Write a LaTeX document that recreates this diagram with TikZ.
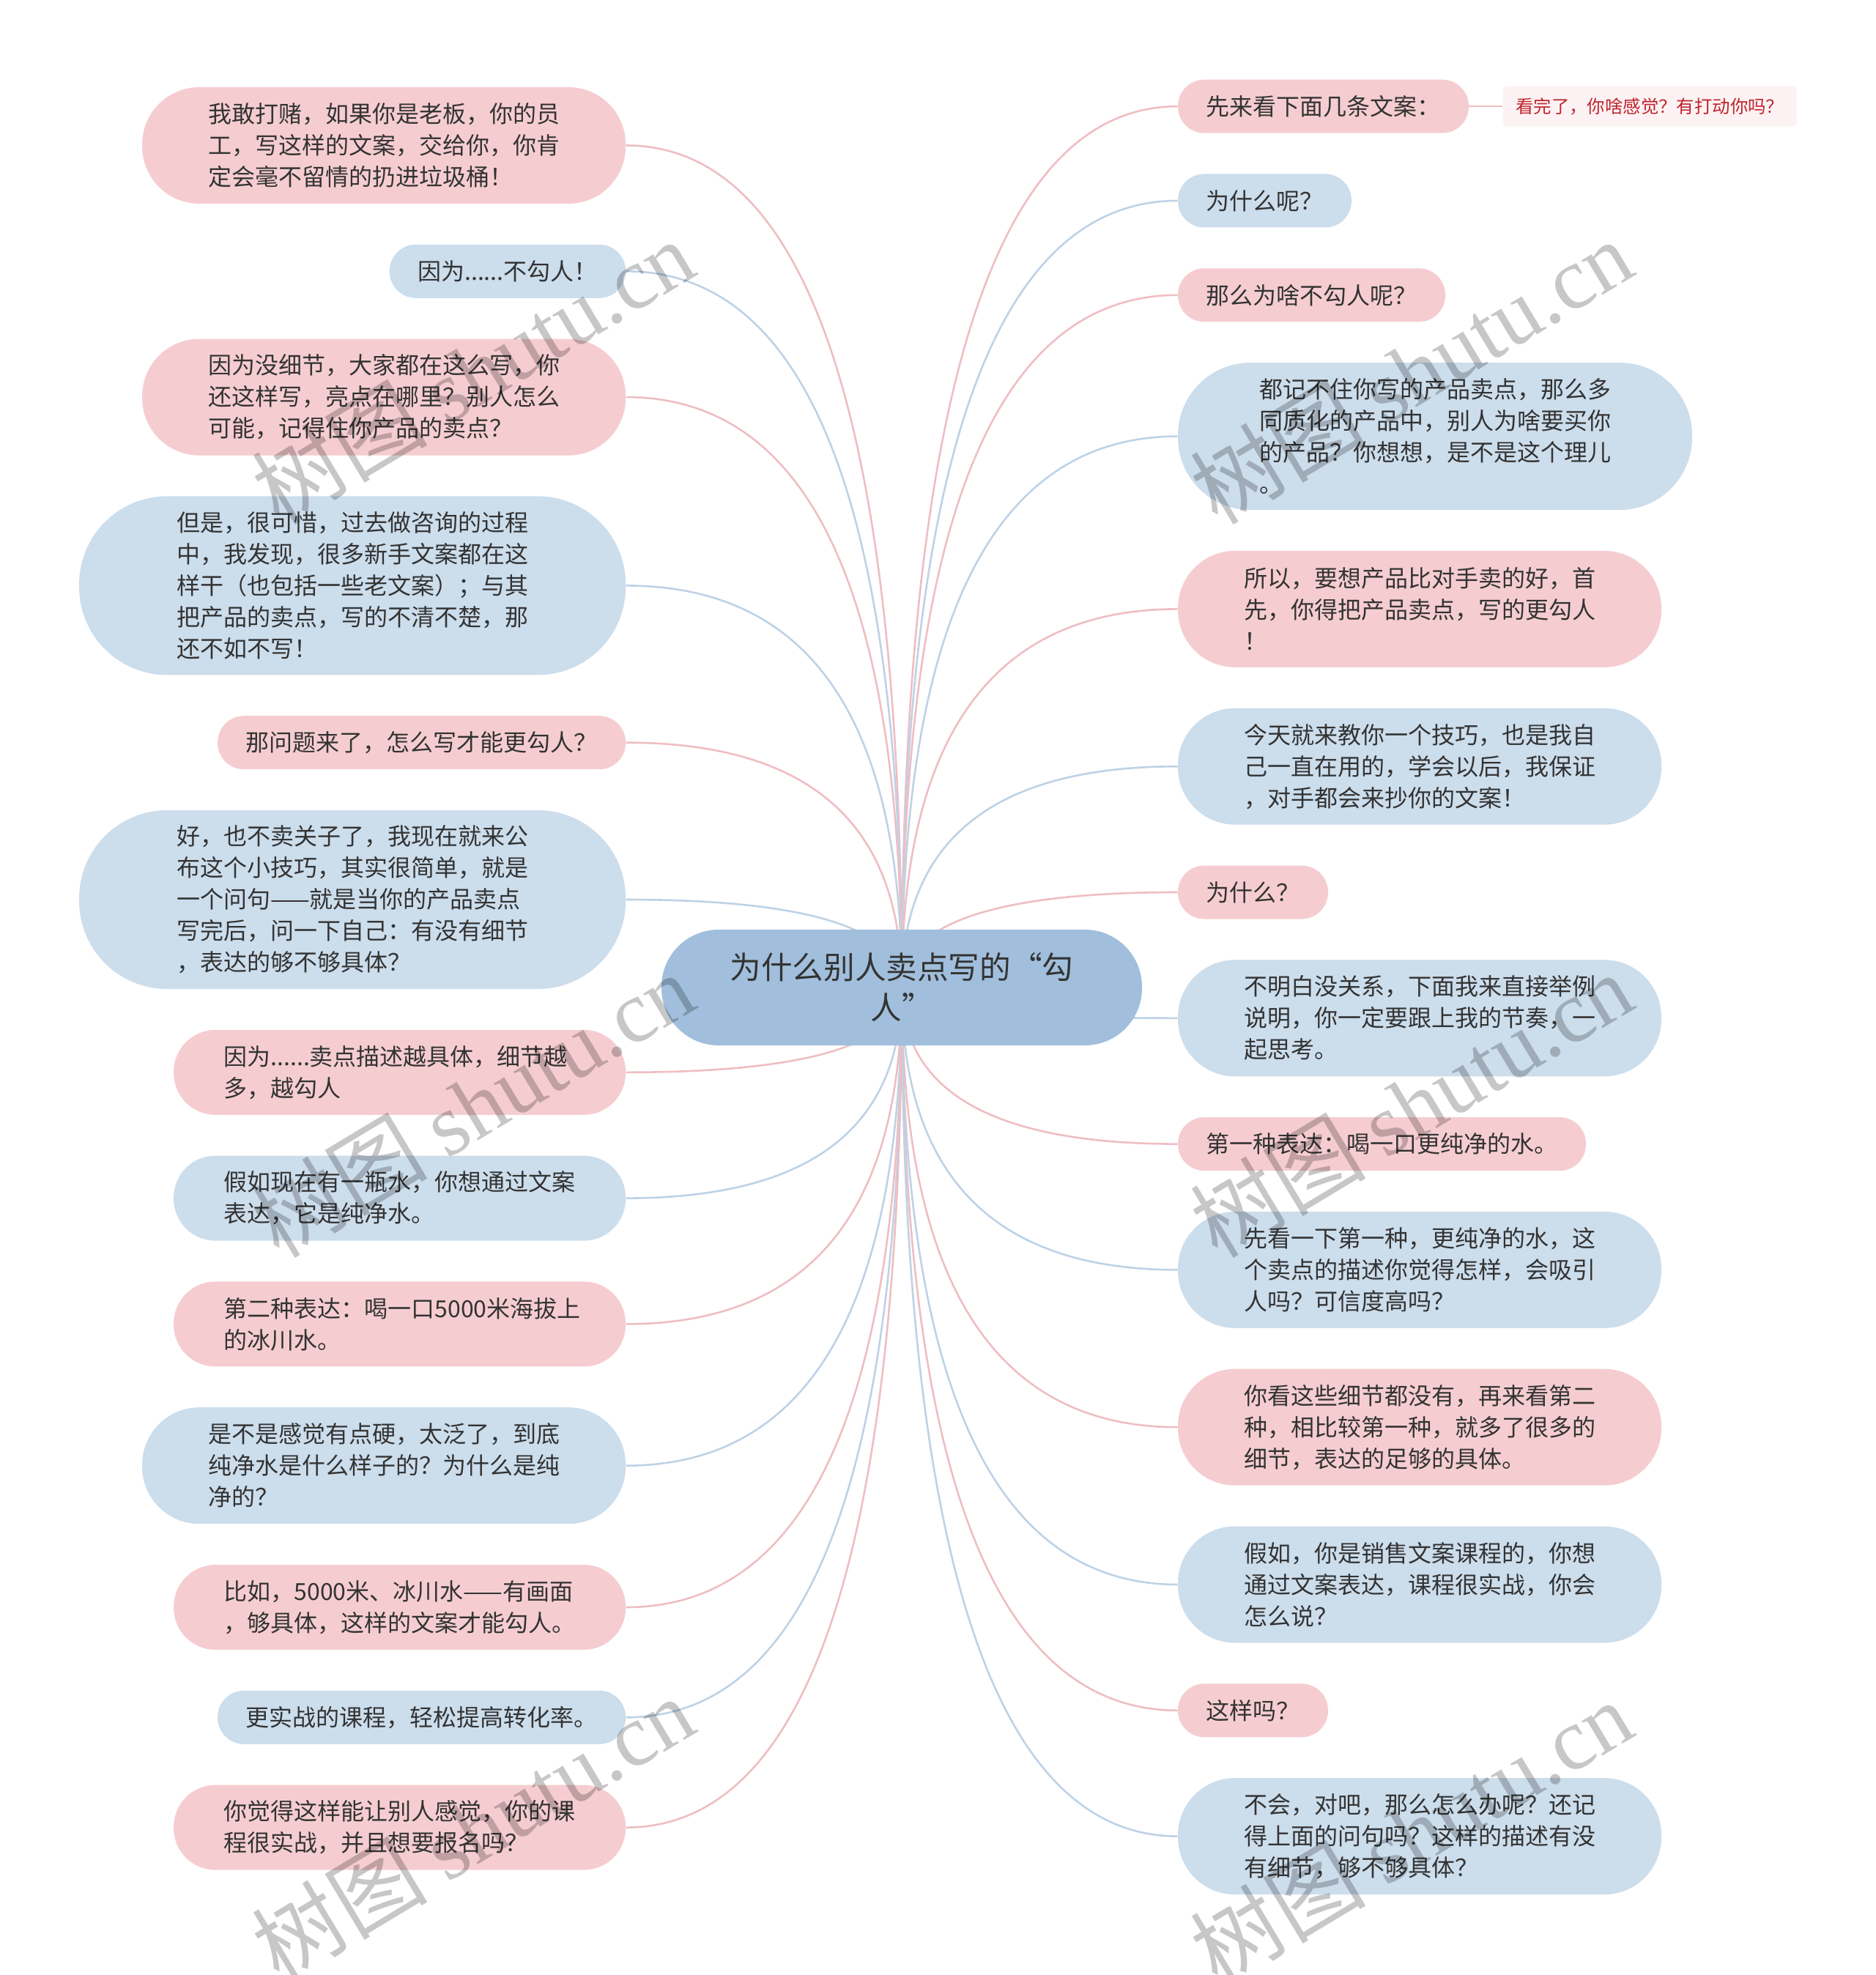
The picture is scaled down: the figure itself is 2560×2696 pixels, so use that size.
\documentclass[tikz,border=0pt]{standalone}
\usepackage{fontspec}
\setmainfont{Noto Sans CJK SC}
\newfontfamily\wmserif{Liberation Serif}
\usetikzlibrary{positioning,calc,backgrounds}

\definecolor{pinkfill}{RGB}{245,205,208}
\definecolor{bluefill}{RGB}{204,221,236}
\definecolor{rootfill}{RGB}{161,191,220}
\definecolor{pinkedge}{RGB}{238,190,194}
\definecolor{blueedge}{RGB}{190,210,230}
\definecolor{inktext}{RGB}{51,51,51}
\definecolor{notefill}{RGB}{253,242,243}
\definecolor{notetext}{RGB}{190,36,44}

\begin{document}
\begin{tikzpicture}[x=0.5pt, y=-0.5pt]
    \tikzstyle{bubble} = [rectangle, text=inktext, font=\fontsize{16}{21.5}\selectfont, align=left, inner ysep=2pt]
    \tikzstyle{pinkbub} = [bubble, fill=pinkfill]
    \tikzstyle{bluebub} = [bubble, fill=bluefill]
    \tikzstyle{lines1} = [minimum height=36.5pt, rounded corners=18pt, inner xsep=19.25pt]
    \tikzstyle{lines2} = [text width=240pt, minimum height=58pt, rounded corners=28.5pt, inner xsep=34.25pt]
    \tikzstyle{lines3} = [text width=240pt, minimum height=79.5pt, rounded corners=39pt, inner xsep=45pt]
    \tikzstyle{lines4} = [text width=240pt, minimum height=100.5pt, rounded corners=49.5pt, inner xsep=55.5pt]
    \tikzstyle{lines5} = [text width=240pt, minimum height=122pt, rounded corners=60pt, inner xsep=66.5pt]
    \tikzstyle{link} = [line width=1.3pt]
    \tikzstyle{wmark} = [text=black, text opacity=0.22, rotate=31, font=\fontsize{60}{60}\selectfont]

    \useasboundingbox (0,0) rectangle (2560,2696);

    % centre
    \node [rectangle, fill=rootfill, text=inktext, rounded corners=39pt, minimum width=328pt, minimum height=79pt, align=center, font=\fontsize{21.3}{27.5}\selectfont] (root) at (1231,1348) {为什么别人卖点写的“勾\\人”};

    % right side
    \node [pinkbub, lines1, anchor=north west] (r1) at (1607.6,108.3) {先来看下面几条文案：};
    \node [bluebub, lines1, below=27.5pt of r1.south west, anchor=north west] (r2) {为什么呢？};
    \node [pinkbub, lines1, below=27.5pt of r2.south west, anchor=north west] (r3) {那么为啥不勾人呢？};
    \node [bluebub, lines4, below=27.5pt of r3.south west, anchor=north west] (r4) {都记不住你写的产品卖点，那么多\\同质化的产品中，别人为啥要买你\\的产品？你想想，是不是这个理儿\\。};
    \node [pinkbub, lines3, below=27.5pt of r4.south west, anchor=north west] (r5) {所以，要想产品比对手卖的好，首\\先，你得把产品卖点，写的更勾人\\！};
    \node [bluebub, lines3, below=27.5pt of r5.south west, anchor=north west] (r6) {今天就来教你一个技巧，也是我自\\己一直在用的，学会以后，我保证\\，对手都会来抄你的文案！};
    \node [pinkbub, lines1, below=27.5pt of r6.south west, anchor=north west] (r7) {为什么？};
    \node [bluebub, lines3, below=27.5pt of r7.south west, anchor=north west] (r8) {不明白没关系，下面我来直接举例\\说明，你一定要跟上我的节奏，一\\起思考。};
    \node [pinkbub, lines1, below=27.5pt of r8.south west, anchor=north west] (r9) {第一种表达：喝一口更纯净的水。};
    \node [bluebub, lines3, below=27.5pt of r9.south west, anchor=north west] (r10) {先看一下第一种，更纯净的水，这\\个卖点的描述你觉得怎样，会吸引\\人吗？可信度高吗？};
    \node [pinkbub, lines3, below=27.5pt of r10.south west, anchor=north west] (r11) {你看这些细节都没有，再来看第二\\种，相比较第一种，就多了很多的\\细节，表达的足够的具体。};
    \node [bluebub, lines3, below=27.5pt of r11.south west, anchor=north west] (r12) {假如，你是销售文案课程的，你想\\通过文案表达，课程很实战，你会\\怎么说？};
    \node [pinkbub, lines1, below=27.5pt of r12.south west, anchor=north west] (r13) {这样吗？};
    \node [bluebub, lines3, below=27.5pt of r13.south west, anchor=north west] (r14) {不会，对吧，那么怎么办呢？还记\\得上面的问句吗？这样的描述有没\\有细节，够不够具体？};

    \node [rectangle, fill=notefill, text=notetext, rounded corners=3pt, font=\fontsize{12.2}{14}\selectfont, minimum height=27.5pt, inner xsep=8.7pt, right=23pt of r1] (n1) {看完了，你啥感觉？有打动你吗？};

    % left side
    \node [pinkbub, lines3, anchor=north east] (l1) at (854.5,118.6) {我敢打赌，如果你是老板，你的员\\工，写这样的文案，交给你，你肯\\定会毫不留情的扔进垃圾桶！};
    \node [bluebub, lines1, below=27.5pt of l1.south east, anchor=north east] (l2) {因为......不勾人！};
    \node [pinkbub, lines3, below=27.5pt of l2.south east, anchor=north east] (l3) {因为没细节，大家都在这么写，你\\还这样写，亮点在哪里？别人怎么\\可能，记得住你产品的卖点？};
    \node [bluebub, lines5, below=27.5pt of l3.south east, anchor=north east] (l4) {但是，很可惜，过去做咨询的过程\\中，我发现，很多新手文案都在这\\样干（也包括一些老文案）；与其\\把产品的卖点，写的不清不楚，那\\还不如不写！};
    \node [pinkbub, lines1, below=27.5pt of l4.south east, anchor=north east] (l5) {那问题来了，怎么写才能更勾人？};
    \node [bluebub, lines5, below=27.5pt of l5.south east, anchor=north east] (l6) {好，也不卖关子了，我现在就来公\\布这个小技巧，其实很简单，就是\\\mbox{一个问句——就是当你的产品卖点}\\写完后，问一下自己：有没有细节\\，表达的够不够具体？};
    \node [pinkbub, lines2, below=27.5pt of l6.south east, anchor=north east] (l7) {\mbox{因为......卖点描述越具体，细节越}\\多，越勾人};
    \node [bluebub, lines2, below=27.5pt of l7.south east, anchor=north east] (l8) {假如现在有一瓶水，你想通过文案\\表达，它是纯净水。};
    \node [pinkbub, lines2, below=27.5pt of l8.south east, anchor=north east] (l9) {\mbox{第二种表达：喝一口5000米海拔上}\\的冰川水。};
    \node [bluebub, lines3, below=27.5pt of l9.south east, anchor=north east] (l10) {是不是感觉有点硬，太泛了，到底\\纯净水是什么样子的？为什么是纯\\净的？};
    \node [pinkbub, lines2, below=27.5pt of l10.south east, anchor=north east] (l11) {\mbox{比如，5000米、冰川水——有画面}\\，够具体，这样的文案才能勾人。};
    \node [bluebub, lines1, below=27.5pt of l11.south east, anchor=north east] (l12) {更实战的课程，轻松提高转化率。};
    \node [pinkbub, lines2, below=27.5pt of l12.south east, anchor=north east] (l13) {你觉得这样能让别人感觉，你的课\\程很实战，并且想要报名吗？};

    % connectors
    \begin{scope}[on background layer]
        \foreach \n/\c in {r1/pinkedge, r2/blueedge, r3/pinkedge, r4/blueedge, r5/pinkedge, r6/blueedge, r7/pinkedge, r8/blueedge, r9/pinkedge, r10/blueedge, r11/pinkedge, r12/blueedge, r13/pinkedge, r14/blueedge} {
            \coordinate (k) at (root.center |- \n.west);
            \draw [link, draw=\c] (root.center) .. controls ($(root.center)!0.667!(k)$) and ($(\n.west)!0.667!(k)$) .. (\n.west);
        }
        \foreach \n/\c in {l1/pinkedge, l2/blueedge, l3/pinkedge, l4/blueedge, l5/pinkedge, l6/blueedge, l7/pinkedge, l8/blueedge, l9/pinkedge, l10/blueedge, l11/pinkedge, l12/blueedge, l13/pinkedge} {
            \coordinate (k) at (root.center |- \n.east);
            \draw [link, draw=\c] (root.center) .. controls ($(root.center)!0.667!(k)$) and ($(\n.east)!0.667!(k)$) .. (\n.east);
        }
        \draw [link, draw=pinkedge] (r1.east) -- (n1.west);
    \end{scope}

    % watermarks
    \node [wmark] (w1) at (645,507) {树图 {\wmserif shutu.cn}};
    \node [wmark] (w2) at (1926,507) {树图 {\wmserif shutu.cn}};
    \node [wmark] (w3) at (645,1508) {树图 {\wmserif shutu.cn}};
    \node [wmark] (w4) at (1926,1508) {树图 {\wmserif shutu.cn}};
    \node [wmark] (w5) at (645,2496) {树图 {\wmserif shutu.cn}};
    \node [wmark] (w6) at (1926,2501) {树图 {\wmserif shutu.cn}};
\end{tikzpicture}
\end{document}
